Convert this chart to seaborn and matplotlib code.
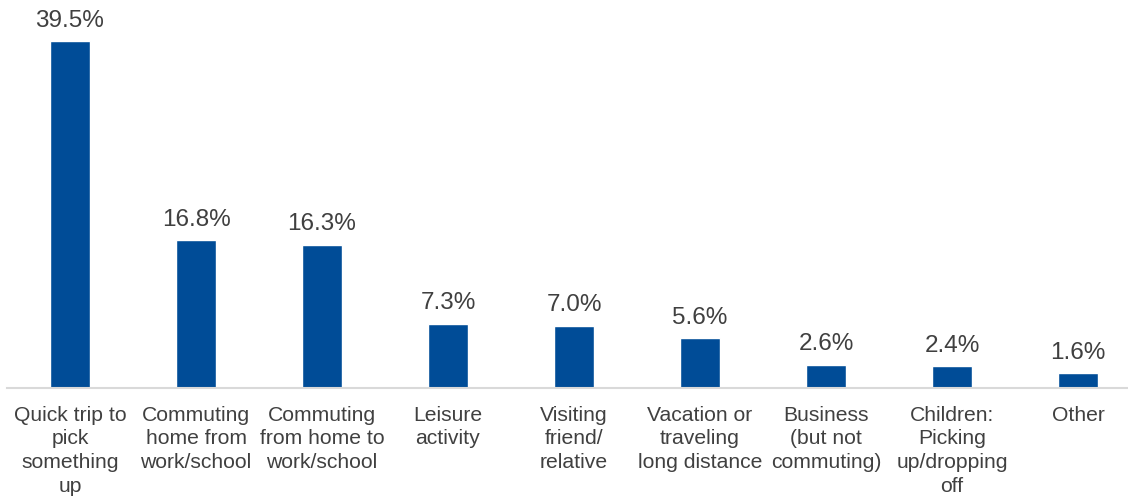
import matplotlib
matplotlib.use("Agg")
import matplotlib.pyplot as plt
import seaborn as sns
import pandas as pd

categories = [
    "Quick trip to\npick\nsomething\nup",
    "Commuting\nhome from\nwork/school",
    "Commuting\nfrom home to\nwork/school",
    "Leisure\nactivity",
    "Visiting\nfriend/\nrelative",
    "Vacation or\ntraveling\nlong distance",
    "Business\n(but not\ncommuting)",
    "Children:\nPicking\nup/dropping\noff",
    "Other",
]
shares = [39.5, 16.8, 16.3, 7.3, 7.0, 5.6, 2.6, 2.4, 1.6]

sns.set_theme(style="white")
plt.rcParams["font.family"] = ["Liberation Sans", "DejaVu Sans"]

df = pd.DataFrame({"category": categories, "share": shares})

W, H = 1128, 498
fig = plt.figure(figsize=(W / 100, H / 100), dpi=100)
slot = 126.0
left_px, base_px = 7.0, 387.5
ax = fig.add_axes([left_px / W, (H - base_px) / H, (W - left_px) / W, base_px / H])

bar_color = "#004C97"
sns.barplot(data=df, x="category", y="share", color=bar_color, width=40 / slot,
            saturation=1, ax=ax)

ax.set_xlim(-0.5, -0.5 + (W - left_px) / slot)
ax.set_ylim(0, base_px / 8.76)

ax.bar_label(ax.containers[0], labels=[f"{v:.1f}%" for v in shares],
             padding=7, fontsize=17.5, color="#404040")

for s in ["top", "right", "left"]:
    ax.spines[s].set_visible(False)
ax.spines["bottom"].set_color("#D9D9D9")
ax.spines["bottom"].set_linewidth(1.5)

ax.set_yticks([])
ax.set_xlabel("")
ax.set_ylabel("")
ax.tick_params(axis="x", length=0, pad=13, labelsize=15.2, labelcolor="#404040")
for lbl in ax.get_xticklabels():
    lbl.set_linespacing(1.32)

fig.savefig("out.png", dpi=100)
